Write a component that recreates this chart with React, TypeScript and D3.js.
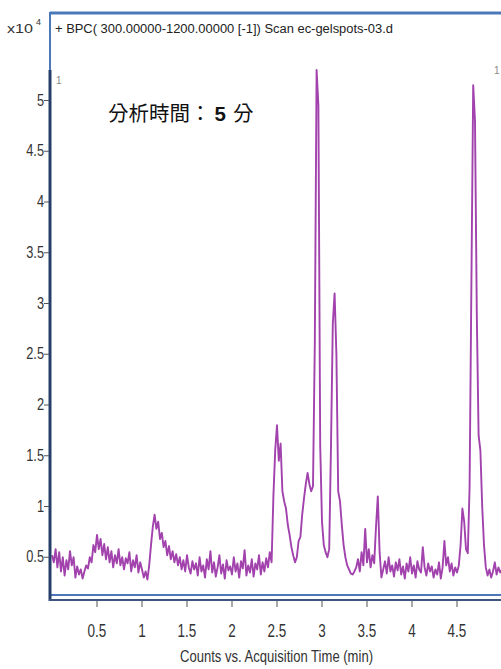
import React from "react";
import * as d3 from "d3";

// BPC trace, sampled every 0.02 min starting at 0 (counts x10^4)
const SAMPLE_STEP = 0.02;
const counts = [
  0.52, 0.45, 0.58, 0.40, 0.55, 0.36, 0.50, 0.32, 0.47, 0.38,
  0.56, 0.42, 0.50, 0.30, 0.41, 0.33, 0.38, 0.29, 0.36, 0.42,
  0.39, 0.50, 0.45, 0.62, 0.55, 0.72, 0.58, 0.68, 0.52, 0.63,
  0.48, 0.60, 0.45, 0.56, 0.40, 0.52, 0.44, 0.58, 0.42, 0.50,
  0.38, 0.49, 0.44, 0.55, 0.36, 0.47, 0.40, 0.52, 0.35, 0.45,
  0.38, 0.30, 0.36, 0.28, 0.42, 0.62, 0.80, 0.92, 0.78, 0.85,
  0.68, 0.74, 0.60, 0.66, 0.52, 0.61, 0.48, 0.56, 0.45, 0.53,
  0.42, 0.50, 0.38, 0.47, 0.36, 0.52, 0.40, 0.34, 0.46, 0.38,
  0.44, 0.32, 0.50, 0.36, 0.42, 0.30, 0.48, 0.38, 0.56, 0.35,
  0.45, 0.31, 0.40, 0.52, 0.34, 0.43, 0.29, 0.47, 0.37, 0.41,
  0.33, 0.50, 0.36, 0.44, 0.30, 0.46, 0.39, 0.57, 0.32, 0.42,
  0.35, 0.48, 0.31, 0.44, 0.38, 0.52, 0.33, 0.45, 0.36, 0.49,
  0.40, 0.55, 0.45, 1.10, 1.55, 1.80, 1.45, 1.62, 1.15, 1.05,
  0.98, 0.82, 0.72, 0.60, 0.52, 0.45, 0.50, 0.66, 0.70, 0.92,
  1.08, 1.22, 1.33, 1.22, 1.15, 1.20, 2.60, 5.30, 4.95, 1.60,
  0.85, 0.62, 0.55, 0.50, 0.58, 1.60, 2.80, 3.10, 2.50, 1.15,
  1.05, 0.82, 0.62, 0.50, 0.42, 0.38, 0.34, 0.33, 0.36, 0.40,
  0.48, 0.36, 0.55, 0.42, 0.78, 0.45, 0.58, 0.40, 0.52, 0.44,
  0.80, 1.10, 0.55, 0.30, 0.38, 0.46, 0.34, 0.50, 0.36, 0.42,
  0.31, 0.45, 0.37, 0.48, 0.33, 0.41, 0.29, 0.44, 0.36, 0.50,
  0.34, 0.42, 0.30, 0.46, 0.38, 0.35, 0.60, 0.40, 0.32, 0.44,
  0.36, 0.41, 0.30, 0.38, 0.33, 0.45, 0.29, 0.40, 0.66, 0.42,
  0.50, 0.36, 0.44, 0.32, 0.40, 0.35, 0.42, 0.62, 0.98, 0.85,
  0.58, 0.54, 1.20, 3.20, 5.15, 4.80, 2.90, 1.70, 1.55, 1.00,
  0.62, 0.40, 0.32, 0.38, 0.30, 0.36, 0.45, 0.33, 0.40, 0.35,
  0.38,
];

const xTicks = [0.5, 1, 1.5, 2, 2.5, 3, 3.5, 4, 4.5];
const yTicks = [0.5, 1, 1.5, 2, 2.5, 3, 3.5, 4, 4.5, 5];

const title = "+ BPC( 300.00000-1200.00000 [-1]) Scan ec-gelspots-03.d";
const xLabel = "Counts vs. Acquisition Time (min)";

const W = 501;
const H = 669;
const narrow = "'Liberation Sans', Arial, sans-serif";

const App = () => {
  const x = d3.scaleLinear().domain([0, 5]).range([52, 502]);
  const y = d3.scaleLinear().domain([0, 5]).range([608, 100.5]);

  const line = d3
    .line<number>()
    .x((d, i) => x(i * SAMPLE_STEP))
    .y((d) => y(d));

  const fmt = (v: number) => String(v);

  return (
    <div style={{ position: "absolute", left: 0, top: 0 }}>
      <svg width={W} height={H} style={{ display: "block", background: "#fff" }}>
        <defs>
          <clipPath id="plot">
            <rect x={51} y={14} width={460} height={581} />
          </clipPath>
        </defs>

        {/* frame */}
        <line x1={50} x2={W} y1={13} y2={13} stroke="#4a78b8" strokeWidth={3} />
        <line x1={50} x2={50} y1={12} y2={598} stroke="#4a78b8" strokeWidth={2} />
        <line x1={50} x2={W} y1={595} y2={595} stroke="#4a78b8" strokeWidth={2} />

        {/* trace */}
        <path
          d={line(counts) || ""}
          fill="none"
          stroke="#a142ad"
          strokeWidth={1.9}
          strokeLinejoin="round"
          clipPath="url(#plot)"
        />

        {/* axes */}
        <line x1={50} x2={50} y1={70} y2={601} stroke="#263f6a" strokeWidth={3} />
        <line x1={49} x2={W} y1={600} y2={600} stroke="#3c567f" strokeWidth={2} />

        {yTicks.map((t) => (
          <g key={"y" + t} transform={`translate(0,${y(t)})`}>
            <line x1={44} x2={49} stroke="#555" strokeWidth={1} />
            <text
              transform="translate(44,5) scale(0.8,1.05)"
              textAnchor="end"
              fontFamily={narrow}
              fontSize={16}
              fill="#333"
            >
              {fmt(t)}
            </text>
          </g>
        ))}

        {xTicks.map((t) => (
          <g key={"x" + t} transform={`translate(${x(t)},0)`}>
            <line y1={601} y2={607} stroke="#555" strokeWidth={1} />
            <text
              transform="translate(0,637) scale(0.75,1.05)"
              textAnchor="middle"
              fontFamily={narrow}
              fontSize={18}
              fill="#333"
            >
              {fmt(t)}
            </text>
          </g>
        ))}

        {/* texts */}
        <text x={7} y={33} fontFamily={narrow} fontSize={13} fill="#333" textLength={26} lengthAdjust="spacingAndGlyphs">
          x10
        </text>
        <text x={36} y={25} fontFamily={narrow} fontSize={9} fill="#333">
          4
        </text>
        <text
          x={55}
          y={33}
          fontFamily={narrow}
          fontSize={12.5}
          fill="#222"
          textLength={338}
          lengthAdjust="spacingAndGlyphs"
        >
          {title}
        </text>
        <text x={56} y={84} fontFamily={narrow} fontSize={10} fill="#888">
          1
        </text>
        <text x={494} y={74} fontFamily={narrow} fontSize={10} fill="#888">
          1
        </text>
        <text
          x={108}
          y={121}
          fontFamily="'Noto Sans CJK TC', 'Noto Sans CJK JP', sans-serif"
          fontSize={20.5}
          fill="#111"
        >
          分析時間：
          <tspan dx={4} fontFamily="'Liberation Sans', Arial, sans-serif" fontWeight="bold">
            5
          </tspan>
          <tspan dx={7}>分</tspan>
        </text>
        <text
          x={180}
          y={662}
          fontFamily={narrow}
          fontSize={17}
          fill="#333"
          textLength={193}
          lengthAdjust="spacingAndGlyphs"
        >
          {xLabel}
        </text>
      </svg>
    </div>
  );
};

export default App;
